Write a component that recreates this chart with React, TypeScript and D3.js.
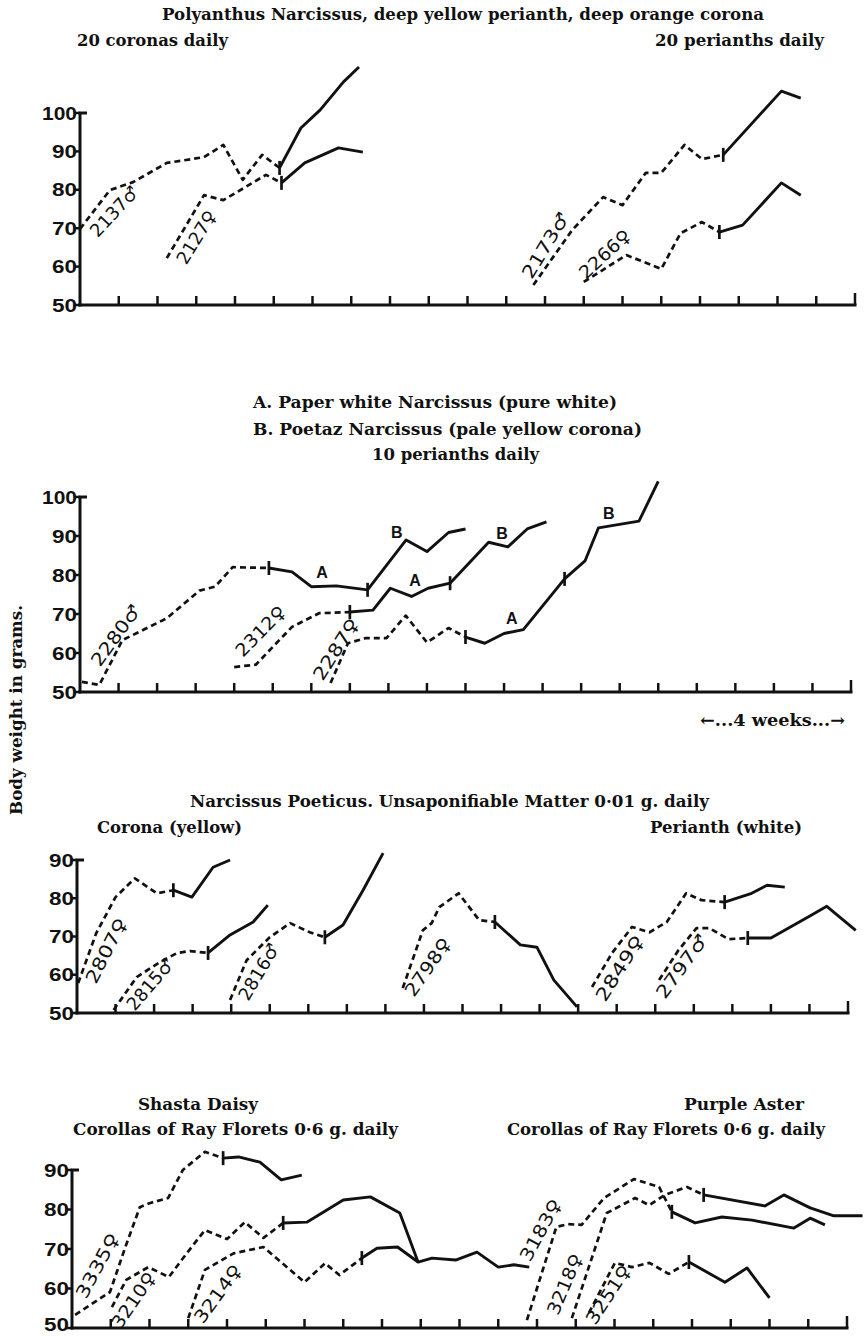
import React from "react";
import * as d3 from "d3";

type Pt = [number, number];

// x = weeks from start of test (one tick per week), y = body weight in grams
// dashed = before feeding, solid = while fed

// Polyanthus Narcissus
const n2137Dash: Pt[] = [[0, 69.8], [0.77, 79.9], [1.37, 82], [2.24, 87], [3.2, 88.5], [3.7, 91.7], [4.2, 82.6], [4.7, 89.1], [5.15, 85.7]];
const n2137Solid: Pt[] = [[5.15, 85.7], [5.7, 96.1], [6.2, 100.8], [6.8, 108.1], [7.2, 112]];
const n2127Dash: Pt[] = [[2.24, 62.2], [3.2, 78.6], [3.7, 77.3], [4.8, 83.9], [5.2, 81.8]];
const n2127Solid: Pt[] = [[5.2, 81.8], [5.8, 87], [6.67, 90.9], [7.3, 89.8]];
const n2173Dash: Pt[] = [[11.7, 55.2], [12.7, 69.5], [13.5, 78.1], [14.0, 76], [14.6, 84.4], [15.0, 84.4], [15.6, 91.7], [16.05, 88], [16.6, 89.1]];
const n2173Solid: Pt[] = [[16.6, 89.1], [18.1, 105.7], [18.6, 103.9]];
const n2266Dash: Pt[] = [[13.0, 56], [14.1, 63], [15.0, 59.4], [15.5, 68.7], [16.05, 71.6], [16.5, 69]];
const n2266Solid: Pt[] = [[16.5, 69], [17.1, 70.8], [18.1, 81.8], [18.6, 78.6]];

// Paper white (A) / Poetaz (B) Narcissus
const n2280Dash: Pt[] = [[0.05, 52.6], [0.5, 51.8], [1.1, 63.3], [2.25, 68.9], [3.1, 76], [3.5, 77], [3.96, 82], [4.9, 81.8]];
const n2280Solid: Pt[] = [[4.9, 81.8], [5.5, 80.8], [6.0, 77], [6.65, 77.2], [7.46, 76.2], [8.46, 89], [9.0, 86], [9.56, 90.9], [10.0, 91.8]];
const n2312Dash: Pt[] = [[4.0, 56.4], [4.56, 57], [5.5, 66.7], [6.2, 70.2], [7.0, 70.5]];
const n2312Solid: Pt[] = [[7.0, 70.5], [7.6, 71], [8.05, 76.6], [8.6, 74.5], [9.03, 76.6], [9.6, 77.9], [10.6, 88.4], [11.1, 87.2], [11.6, 91.8], [12.1, 93.6]];
const n2287Dash: Pt[] = [[6.5, 52.3], [6.95, 62.5], [7.4, 63.8], [7.95, 63.8], [8.45, 69.6], [9.0, 62.7], [9.56, 66.4], [10.0, 64.1]];
const n2287Solid: Pt[] = [[10.0, 64.1], [10.5, 62.5], [11.0, 65], [11.5, 66], [12.57, 79], [13.1, 83.6], [13.45, 92.1], [14.5, 93.8], [15.0, 104]];

// Narcissus Poeticus
const n2807Dash: Pt[] = [[0.03, 57.8], [0.5, 70.9], [1.0, 80.3], [1.5, 85.2], [2.07, 81.3], [2.5, 82.1]];
const n2807Solid: Pt[] = [[2.5, 82.1], [2.98, 80.3], [3.53, 88.1], [3.97, 90]];
const n2815Dash: Pt[] = [[0.95, 50.8], [1.55, 59.4], [2.15, 63.3], [2.6, 65.7], [2.93, 66.2], [3.4, 65.7]];
const n2815Solid: Pt[] = [[3.4, 65.7], [3.97, 70.4], [4.57, 73.8], [4.95, 78.2]];
const n2816Dash: Pt[] = [[3.97, 53.4], [4.4, 63.8], [5.0, 69.8], [5.53, 73.5], [6.04, 71.1], [6.43, 69.8]];
const n2816Solid: Pt[] = [[6.43, 69.8], [6.9, 73], [7.42, 82.1], [7.94, 91.8]];
const n2798Dash: Pt[] = [[8.45, 56.5], [8.97, 71.6], [9.2, 73.5], [9.4, 77.7], [9.9, 81.3], [10.43, 74.3], [10.84, 73.8]];
const n2798Solid: Pt[] = [[10.84, 73.8], [11.5, 67.8], [11.93, 67.2], [12.37, 58.6], [12.97, 51.6]];
const n2849Dash: Pt[] = [[13.36, 56.8], [13.88, 65.7], [14.4, 72.5], [14.85, 71.1], [15.3, 73.8], [15.8, 81.3], [16.2, 79.5], [16.8, 79]];
const n2849Solid: Pt[] = [[16.8, 79], [17.5, 81.3], [17.9, 83.4], [18.36, 82.9]];
const n2797Dash: Pt[] = [[15.1, 58.6], [15.6, 66.4], [16.07, 72.2], [16.4, 72.2], [16.9, 69.3], [17.4, 69.6]];
const n2797Solid: Pt[] = [[17.4, 69.6], [18.0, 69.6], [19.0, 75.3], [19.45, 77.9], [20.2, 71.6]];

// Shasta Daisy
const d3335Dash: Pt[] = [[0.08, 53.3], [0.98, 59.1], [1.37, 70.3], [1.75, 80.6], [2.0, 81.6], [2.48, 82.9], [2.86, 90], [3.43, 94.6], [3.9, 93]];
const d3335Solid: Pt[] = [[3.9, 93], [4.3, 93.3], [4.85, 92], [5.4, 87.5], [5.93, 88.7]];
const d3210Dash: Pt[] = [[1.03, 55.3], [1.4, 62.2], [1.97, 65.4], [2.5, 62.9], [2.96, 68.9], [3.43, 74.8], [4.0, 72.5], [4.46, 76.8], [4.94, 72.8], [5.45, 76.6]];
const d3210Solid: Pt[] = [[5.45, 76.6], [6.06, 76.8], [7.0, 82.4], [7.7, 83.2], [8.46, 79.1], [8.93, 66.7]];
const d3214Dash: Pt[] = [[3.0, 52.5], [3.43, 64.7], [4.17, 68.9], [4.94, 70.5], [6.0, 61.6], [6.53, 66.4], [6.9, 63.4], [7.48, 67.7]];
const d3214Solid: Pt[] = [[7.48, 67.7], [7.87, 70.2], [8.4, 70.5], [8.93, 66.7], [9.29, 67.7], [9.9, 67.2], [10.45, 69.2], [11.0, 65.4], [11.4, 66], [11.8, 65.4]];

// Purple Aster
const a3183Dash: Pt[] = [[11.74, 52], [12.5, 75.6], [12.8, 76.3], [13.15, 76.1], [13.73, 82.9], [14.5, 87.7], [15.15, 85.7], [15.48, 79.4]];
const a3183Solid: Pt[] = [[15.48, 79.4], [16.08, 76.6], [16.77, 78.1], [17.55, 77.3], [18.63, 75.3], [19.05, 77.8], [19.43, 76.1]];
const a3218Dash: Pt[] = [[12.9, 52.5], [13.8, 79.1], [14.53, 82.9], [14.9, 81.1], [15.3, 83.7], [15.87, 85.7], [16.3, 83.7]];
const a3218Solid: Pt[] = [[16.3, 83.7], [17.88, 80.9], [18.37, 83.7], [19.05, 80.4], [19.66, 78.4], [20.4, 78.4]];
const a3251Dash: Pt[] = [[13.34, 53.8], [14.01, 66.5], [14.45, 65.4], [14.9, 66.5], [15.4, 63.7], [15.92, 66.7]];
const a3251Solid: Pt[] = [[15.92, 66.7], [16.85, 61.6], [17.42, 65.2], [18.0, 57.6]];

type Series = { name: string; dash: Pt[]; solid: Pt[]; marks?: number[]; lab: [Pt, Pt] };
type Title = { text: string; x1: number; x2: number; y: number };

const panels: {
  x0: number; x1: number; yBottom: number; yTop: number; yMax: number;
  series: Series[]; letters?: { t: string; at: Pt }[]; titles: Title[];
}[] = [
  {
    x0: 80, x1: 855, yBottom: 305, yTop: 113, yMax: 100,
    series: [
      { name: "2137♂", dash: n2137Dash, solid: n2137Solid, lab: [[0.46, 67.4], [1.55, 79.2]] },
      { name: "2127♀", dash: n2127Dash, solid: n2127Solid, lab: [[2.74, 60.2], [3.54, 73.4]] },
      { name: "2173♂", dash: n2173Dash, solid: n2173Solid, lab: [[11.66, 56.5], [12.65, 72.9]] },
      { name: "2266♀", dash: n2266Dash, solid: n2266Solid, lab: [[13.06, 56.5], [14.25, 67.7]] },
    ],
    titles: [
      { text: "Polyanthus Narcissus, deep yellow perianth, deep orange corona", x1: 162, x2: 764, y: 20 },
      { text: "20 coronas daily", x1: 77, x2: 228, y: 46 },
      { text: "20 perianths daily", x1: 655, x2: 824, y: 46 },
    ],
  },
  {
    x0: 80, x1: 851, yBottom: 692, yTop: 497, yMax: 100,
    series: [
      { name: "2280♂", dash: n2280Dash, solid: n2280Solid, marks: [4], lab: [[0.52, 56.2], [1.61, 71.0]] },
      { name: "2312♀", dash: n2312Dash, solid: n2312Solid, marks: [5], lab: [[4.23, 58.7], [5.37, 70.3]] },
      { name: "2287♀", dash: n2287Dash, solid: n2287Solid, marks: [4], lab: [[6.3, 52.6], [7.26, 67.7]] },
    ],
    letters: [
      { t: "A", at: [6.28, 80.8] }, { t: "B", at: [8.22, 91.0] }, { t: "A", at: [8.69, 78.7] },
      { t: "B", at: [10.95, 90.8] }, { t: "A", at: [11.2, 69.0] }, { t: "B", at: [13.72, 95.9] },
    ],
    titles: [
      { text: "A.  Paper white Narcissus (pure white)", x1: 253, x2: 617, y: 408 },
      { text: "B.  Poetaz Narcissus (pale yellow corona)", x1: 253, x2: 642, y: 435 },
      { text: "10 perianths daily", x1: 372, x2: 539, y: 460 },
      { text: "←...4 weeks...→", x1: 700, x2: 845, y: 726 },
    ],
  },
  {
    x0: 77, x1: 848, yBottom: 1013, yTop: 860, yMax: 90,
    series: [
      { name: "2807♀", dash: n2807Dash, solid: n2807Solid, lab: [[0.49, 57.3], [1.32, 73.8]] },
      { name: "2815♂", dash: n2815Dash, solid: n2815Solid, lab: [[1.5, 50.3], [2.54, 62.5]] },
      { name: "2816♂", dash: n2816Dash, solid: n2816Solid, lab: [[4.44, 52.9], [5.27, 67.0]] },
      { name: "2798♀", dash: n2798Dash, solid: n2798Solid, lab: [[8.74, 53.9], [9.73, 68.3]] },
      { name: "2849♀", dash: n2849Dash, solid: n2849Solid, lab: [[13.7, 52.6], [14.73, 69.1]] },
      { name: "2797♂", dash: n2797Dash, solid: n2797Solid, lab: [[15.25, 53.4], [16.39, 69.1]] },
    ],
    titles: [
      { text: "Narcissus Poeticus.  Unsaponifiable Matter 0·01 g. daily", x1: 190, x2: 709, y: 807 },
      { text: "Corona (yellow)", x1: 97, x2: 242, y: 833 },
      { text: "Perianth (white)", x1: 650, x2: 802, y: 833 },
    ],
  },
  {
    x0: 72, x1: 847, yBottom: 1328, yTop: 1170, yMax: 90,
    series: [
      { name: "3335♀", dash: d3335Dash, solid: d3335Solid, lab: [[0.36, 57.1], [1.24, 73.0]] },
      { name: "3210♀", dash: d3210Dash, solid: d3210Solid, lab: [[1.26, 49.5], [2.19, 62.9]] },
      { name: "3214♀", dash: d3214Dash, solid: d3214Solid, lab: [[3.38, 50.8], [4.41, 64.7]] },
      { name: "3183♀", dash: a3183Dash, solid: a3183Solid, lab: [[11.82, 66.5], [12.65, 81.6]] },
      { name: "3218♀", dash: a3218Dash, solid: a3218Solid, lab: [[12.54, 53.0], [13.19, 68.0]] },
      { name: "3251♀", dash: a3251Dash, solid: a3251Solid, lab: [[13.5, 50.5], [14.45, 64.7]] },
    ],
    titles: [
      { text: "Shasta Daisy", x1: 138, x2: 258, y: 1110 },
      { text: "Corollas of Ray Florets 0·6 g. daily", x1: 73, x2: 398, y: 1135 },
      { text: "Purple Aster", x1: 684, x2: 804, y: 1110 },
      { text: "Corollas of Ray Florets 0·6 g. daily", x1: 507, x2: 825, y: 1135 },
    ],
  },
];

const ink = "#111";
const serif = "'DejaVu Serif', 'Liberation Serif', serif";
const sans = "'Liberation Sans', Arial, sans-serif";
const H = 1336;

function Panel({ cfg }: { cfg: (typeof panels)[number] }) {
  const x = d3.scaleLinear().domain([0, 20]).range([cfg.x0, cfg.x1]);
  const y = d3.scaleLinear().domain([50, cfg.yMax]).range([cfg.yBottom, cfg.yTop]);
  const line = d3.line<Pt>().x((d) => x(d[0])).y((d) => y(d[1]));
  const yTicks = d3.range(50, cfg.yMax + 1, 10);
  const xTicks = d3.range(1, 21);

  return (
    <g>
      {cfg.titles.map((t, i) => (
        <text key={"t" + i} x={t.x1} y={t.y} fontFamily={serif} fontWeight="bold" fontSize={17}
          textLength={t.x2 - t.x1} lengthAdjust="spacingAndGlyphs" fill={ink}>{t.text}</text>
      ))}

      {/* axes */}
      <path d={`M${cfg.x0},${cfg.yBottom + 1.5}V${cfg.yTop}h7`} fill="none" stroke={ink} strokeWidth={3} />
      <line x1={cfg.x0 - 1.5} x2={cfg.x1 + 1.5} y1={cfg.yBottom} y2={cfg.yBottom} stroke={ink} strokeWidth={3} />
      {xTicks.map((k) => (
        <line key={"x" + k} x1={x(k)} x2={x(k)} y1={cfg.yBottom} y2={cfg.yBottom - (k === 20 ? 12 : 9)} stroke={ink} strokeWidth={2.5} />
      ))}
      {yTicks.map((v) => {
        // keep the lowest label inside the picture
        const base = Math.min(y(v) + 6.5, H - 5);
        return (
          <g key={"y" + v}>
            <line x1={cfg.x0 - 6} x2={cfg.x0} y1={y(v)} y2={y(v)} stroke={ink} strokeWidth={2.5} />
            <text x={cfg.x0 - 3} y={base} textAnchor="end" fontFamily={sans} fontWeight="bold"
              fontSize={18} textLength={v >= 100 ? 35 : 25} lengthAdjust="spacingAndGlyphs" fill={ink}>{v}</text>
          </g>
        );
      })}

      {cfg.series.map((s) => {
        const marks = [0, ...(s.marks || [])].map((i) => s.solid[i]);
        const [a, b] = s.lab;
        const ax = x(a[0]), ay = y(a[1]), bx = x(b[0]), by = y(b[1]);
        const ang = (Math.atan2(by - ay, bx - ax) * 180) / Math.PI;
        const len = Math.hypot(bx - ax, by - ay);
        return (
          <g key={s.name}>
            <path d={line(s.dash) || ""} fill="none" stroke={ink} strokeWidth={2.7} strokeDasharray="6,4" strokeLinejoin="round" />
            <path d={line(s.solid) || ""} fill="none" stroke={ink} strokeWidth={2.9} strokeLinejoin="round" />
            {marks.map((m, i) => (
              <line key={i} x1={x(m[0])} x2={x(m[0])} y1={y(m[1]) - 7} y2={y(m[1]) + 7} stroke={ink} strokeWidth={2.7} />
            ))}
            <text transform={`translate(${ax},${ay}) rotate(${ang})`} fontFamily="'DejaVu Sans', sans-serif"
              fontSize={18} textLength={len} lengthAdjust="spacingAndGlyphs" fill={ink}>{s.name}</text>
          </g>
        );
      })}

      {(cfg.letters || []).map((l, i) => (
        <text key={"l" + i} x={x(l.at[0])} y={y(l.at[1])} dy="0.36em" textAnchor="middle" fontFamily={sans}
          fontWeight="bold" fontSize={16} fill={ink}>{l.t}</text>
      ))}
    </g>
  );
}

export default function App() {
  return (
    <div style={{ position: "absolute", left: 0, top: 0 }}>
      <svg width={864} height={H} style={{ display: "block", background: "#fff" }}>
        {panels.map((p, i) => <Panel key={i} cfg={p} />)}
        <text transform="translate(22,710) rotate(-90)" textAnchor="middle" fontFamily={serif} fontWeight="bold"
          fontSize={17} textLength={210} lengthAdjust="spacingAndGlyphs" fill={ink}>Body weight in grams.</text>
      </svg>
    </div>
  );
}
